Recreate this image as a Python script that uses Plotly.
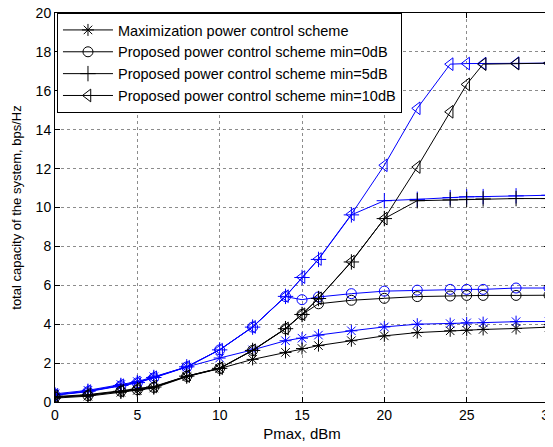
import plotly.graph_objects as go

pmax = [0, 2, 4, 5, 6, 8, 10, 12, 14, 15, 16, 18, 20, 22, 24, 25, 26, 28, 30]

# black curves
max_black = [0.2, 0.3, 0.5, 0.6, 0.72, 1.3, 1.72, 2.19, 2.55, 2.75, 2.9, 3.15, 3.4, 3.57, 3.66, 3.69, 3.73, 3.78, 3.85]
min0_black = [0.25, 0.33, 0.55, 0.63, 0.75, 1.32, 1.73, 2.65, 3.76, 4.5, 5.05, 5.23, 5.33, 5.42, 5.45, 5.48, 5.48, 5.48, 5.49]
min5_black = [0.25, 0.35, 0.55, 0.65, 0.77, 1.33, 1.73, 2.65, 3.77, 4.5, 5.32, 7.2, 9.43, 10.35, 10.39, 10.42, 10.44, 10.46, 10.46]
min10_black = [0.28, 0.38, 0.58, 0.68, 0.8, 1.33, 1.74, 2.66, 3.78, 4.51, 5.33, 7.22, 9.43, 12.08, 14.92, 16.33, 17.37, 17.4, 17.42]

# blue curves
max_blue = [0.42, 0.6, 0.9, 1.05, 1.3, 1.8, 2.26, 2.68, 3.15, 3.28, 3.44, 3.66, 3.86, 4.0, 4.03, 4.07, 4.08, 4.13, 4.14]
min0_blue = [0.35, 0.53, 0.83, 0.98, 1.24, 1.8, 2.68, 3.85, 5.42, 5.26, 5.4, 5.57, 5.7, 5.75, 5.79, 5.79, 5.79, 5.86, 5.86]
min5_blue = [0.36, 0.55, 0.85, 1.0, 1.26, 1.81, 2.68, 3.85, 5.43, 6.4, 7.33, 9.62, 10.35, 10.42, 10.51, 10.55, 10.56, 10.6, 10.63]
min10_blue = [0.37, 0.56, 0.86, 1.01, 1.27, 1.81, 2.69, 3.86, 5.44, 6.42, 7.35, 9.65, 12.17, 15.1, 17.37, 17.4, 17.4, 17.42, 17.42]

names = [
    "Maximization power control scheme",
    "Proposed power control scheme min=0dB",
    "Proposed power control scheme min=5dB",
    "Proposed power control scheme min=10dB",
]
symbols = ["asterisk-open", "circle-open", "cross-thin-open", "triangle-left-open"]
sizes = [10, 10, 11, 11]

fig = go.Figure()

blue_sets = [max_blue, min0_blue, min5_blue, min10_blue]
black_sets = [max_black, min0_black, min5_black, min10_black]

for ys, sym, sz in zip(blue_sets, symbols, sizes):
    fig.add_trace(go.Scatter(
        x=pmax, y=ys, mode="lines+markers", showlegend=False,
        line=dict(color="#0000ff", width=1),
        marker=dict(symbol=sym, size=sz, color="#0000ff",
                    line=dict(color="#0000ff", width=1)),
    ))

for ys, sym, sz, nm in zip(black_sets, symbols, sizes, names):
    fig.add_trace(go.Scatter(
        x=pmax, y=ys, mode="lines+markers", name=nm,
        line=dict(color="#000000", width=1),
        marker=dict(symbol=sym, size=sz, color="#000000",
                    line=dict(color="#000000", width=1)),
    ))

axis_common = dict(
    showline=True, linecolor="black", linewidth=1, mirror="ticks",
    ticks="inside", ticklen=5, tickcolor="black",
    showgrid=True, gridcolor="#8c8c8c", griddash="dot", gridwidth=1,
    zeroline=False, automargin=False, ticklabeloverflow="allow",
    tickfont=dict(family="Liberation Sans, Arial", size=14, color="black"),
)

# page body has an 8px margin; the figure is sized to fill the rest of the window
fig.update_layout(
    width=545, height=439,
    margin=dict(l=47, r=4, t=5, b=45),
    paper_bgcolor="white", plot_bgcolor="white",
    font=dict(family="Liberation Sans, Arial", color="black"),
    xaxis=dict(range=[0, 30], dtick=5,
               title=dict(text="Pmax, dBm", font=dict(size=15), standoff=6),
               **axis_common),
    yaxis=dict(range=[0, 20], dtick=2,
               title=dict(text="total capacity of the system, bps/Hz", font=dict(size=13), standoff=11),
               **axis_common),
    legend=dict(x=0.004, y=1, xanchor="left", yanchor="top",
                bgcolor="white", bordercolor="black", borderwidth=1,
                font=dict(size=14.5, family="Liberation Sans, Arial"),
                itemwidth=50, tracegroupgap=0),
)

fig.write_html("out.html")
